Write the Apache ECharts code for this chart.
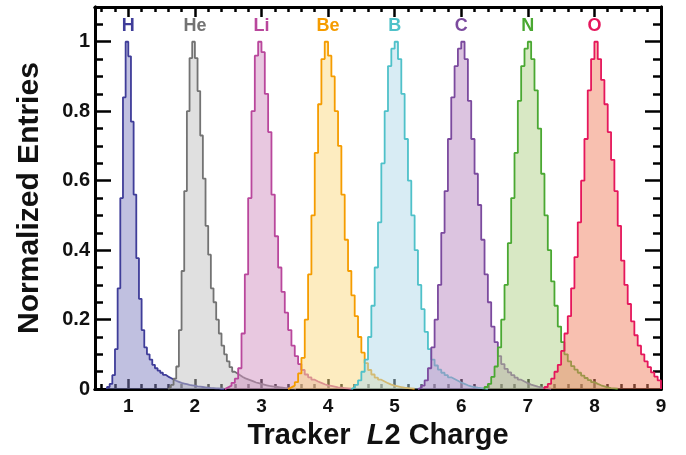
<!DOCTYPE html>
<html>
<head>
<meta charset="utf-8">
<script src="https://cdn.jsdelivr.net/npm/echarts@6/dist/echarts.min.js"></script>
<style>
  html, body { margin: 0; padding: 0; background: #fff; }
  #chart { width: 686px; height: 455px; }
</style>
</head>
<body>
<div id="chart"></div>
<script>
// element names and the x position of their label
const elements = ['H', 'He', 'Li', 'Be', 'B', 'C', 'N', 'O']
const labelX = [1, 2, 3, 4, 5, 6, 7, 8]
const labelY = 1.045

// histogram binning: first bin edge and bin width per element
const binStart = [0.68, 1.60, 2.45, 3.40, 4.35, 5.35, 6.35, 7.25]
const binWidth = [0.04, 0.04, 0.05, 0.05, 0.05, 0.05, 0.05, 0.05]

// normalized entries per bin
const hVals = [0.006, 0.015, 0.04, 0.115, 0.29, 0.55, 0.84, 1.0, 0.958, 0.77, 0.56, 0.377, 0.26, 0.17, 0.12, 0.10, 0.085, 0.07, 0.06, 0.053, 0.047, 0.041, 0.036, 0.032, 0.028, 0.024, 0.021, 0.018, 0.016, 0.014, 0.012, 0.011, 0.010, 0.008, 0.007, 0.006, 0.005, 0.004, 0.003, 0.003, 0.002, 0.002, 0.001, 0.001]
const heVals = [0.005, 0.012, 0.03, 0.065, 0.17, 0.34, 0.57, 0.80, 0.953, 1.0, 0.953, 0.858, 0.73, 0.606, 0.47, 0.387, 0.29, 0.25, 0.20, 0.16, 0.125, 0.10, 0.08, 0.063, 0.05, 0.045, 0.04, 0.035, 0.031, 0.028, 0.025, 0.022, 0.019, 0.017, 0.015, 0.013, 0.011, 0.009, 0.008, 0.007, 0.006, 0.005, 0.004, 0.003, 0.003, 0.002, 0.002, 0.001]
const liVals = [0.005, 0.01, 0.018, 0.03, 0.06, 0.16, 0.33, 0.55, 0.80, 0.96, 1.0, 0.97, 0.85, 0.74, 0.56, 0.44, 0.35, 0.28, 0.22, 0.17, 0.125, 0.095, 0.072, 0.055, 0.042, 0.034, 0.027, 0.022, 0.018, 0.014, 0.011, 0.009, 0.007, 0.005, 0.004, 0.003, 0.002, 0.001]
const beVals = [0.005, 0.01, 0.02, 0.045, 0.09, 0.2, 0.33, 0.5, 0.68, 0.82, 0.95, 1.0, 0.96, 0.9, 0.8, 0.7, 0.56, 0.43, 0.34, 0.27, 0.21, 0.15, 0.105, 0.075, 0.055, 0.042, 0.033, 0.027, 0.022, 0.017, 0.013, 0.01, 0.008, 0.006, 0.004, 0.003, 0.002, 0.001]
const bVals = [0.005, 0.012, 0.025, 0.05, 0.085, 0.15, 0.24, 0.35, 0.48, 0.65, 0.80, 0.93, 0.98, 1.0, 0.95, 0.85, 0.72, 0.6, 0.5, 0.4, 0.3, 0.23, 0.165, 0.115, 0.085, 0.068, 0.056, 0.047, 0.04, 0.034, 0.029, 0.024, 0.019, 0.015, 0.011, 0.008, 0.006, 0.004, 0.003, 0.002, 0.001]
const cVals = [0.004, 0.01, 0.025, 0.06, 0.12, 0.2, 0.3, 0.45, 0.57, 0.72, 0.84, 0.93, 0.98, 1.0, 0.95, 0.83, 0.72, 0.62, 0.53, 0.43, 0.33, 0.25, 0.18, 0.135, 0.095, 0.072, 0.058, 0.048, 0.04, 0.033, 0.027, 0.022, 0.017, 0.013, 0.01, 0.007, 0.005, 0.003, 0.002, 0.001]
const nVals = [0.006, 0.015, 0.035, 0.065, 0.12, 0.2, 0.3, 0.42, 0.55, 0.68, 0.83, 0.93, 0.98, 1.0, 0.95, 0.86, 0.75, 0.62, 0.5, 0.4, 0.31, 0.24, 0.18, 0.135, 0.10, 0.08, 0.066, 0.056, 0.047, 0.039, 0.032, 0.026, 0.02, 0.015, 0.011, 0.008, 0.005, 0.003, 0.002, 0.001]
const oVals = [0.006, 0.015, 0.03, 0.05, 0.07, 0.11, 0.16, 0.21, 0.29, 0.38, 0.48, 0.6, 0.72, 0.86, 0.95, 1.0, 0.95, 0.89, 0.82, 0.74, 0.66, 0.57, 0.47, 0.37, 0.3, 0.245, 0.195, 0.155, 0.125, 0.1, 0.08, 0.063, 0.048, 0.036, 0.025]
const allVals = [hVals, heVals, liVals, beVals, bVals, cVals, nVals, oVals]

// axis ticks
const xTicks = [1, 2, 3, 4, 5, 6, 7, 8, 9]
const xMinor = []
for (let i = 3; i <= 45; i++) if (i % 5 !== 0) xMinor.push(+(i * 0.2).toFixed(1))
const yTicks = [0, 0.2, 0.4, 0.6, 0.8, 1]
const yMinor = []
for (let i = 1; i <= 21; i++) if (i % 4 !== 0) yMinor.push(+(i * 0.05).toFixed(2))

// colours
const lineColors = ['#3f3d99', '#737373', '#b9479c', '#f59c00', '#4fc1c9', '#7b4a9e', '#4aa832', '#e5175c']
const fillColors = ['#8181c1', '#c2c2c2', '#d191c1', '#fbd981', '#b1d9e9', '#b989c1', '#b1d189', '#f18161']

const font = '"Liberation Sans", Arial, Helvetica, sans-serif'

function histPoints(start, width, vals) {
  const pts = [[start, 0]]
  vals.forEach((v, i) => pts.push([+(start + i * width).toFixed(3), v]))
  pts.push([+(start + vals.length * width).toFixed(3), 0])
  return pts
}

const chart = echarts.init(document.getElementById('chart'))

function tickAxis(pos, type, ticks, len, labels, extra) {
  const isX = type === 'x'
  return Object.assign({
    type: 'value',
    position: pos,
    min: isX ? 0.5 : 0,
    max: isX ? 9 : 1.1,
    axisLine: { show: true, onZero: false, lineStyle: { color: '#000', width: 3 } },
    axisTick: { show: true, inside: true, length: len, customValues: ticks, lineStyle: { color: '#000', width: 2.5 } },
    axisLabel: labels ? {
      show: true,
      customValues: ticks,
      margin: isX ? 8 : 5,
      fontFamily: font,
      fontWeight: 'bold',
      fontSize: isX ? 19 : 20,
      color: '#111'
    } : { show: false },
    splitLine: { show: false }
  }, extra || {})
}

const series = allVals.map((vals, k) => ({
  name: elements[k],
  type: 'line',
  step: 'end',
  xAxisIndex: 0,
  yAxisIndex: 0,
  symbol: 'none',
  data: histPoints(binStart[k], binWidth[k], vals),
  lineStyle: { color: lineColors[k], width: 1.8 },
  areaStyle: { color: fillColors[k], opacity: 0.5 },
  z: 2 + k
}))

// element names above the peaks
series.push({
  type: 'scatter',
  xAxisIndex: 0,
  yAxisIndex: 0,
  symbolSize: 1,
  itemStyle: { opacity: 0 },
  silent: true,
  z: 20,
  data: elements.map((el, k) => ({
    value: [labelX[k], labelY],
    label: {
      show: true,
      position: 'inside',
      formatter: el,
      fontFamily: font,
      fontWeight: 'bold',
      fontSize: 18,
      color: lineColors[k],
      textBorderWidth: 0,
      opacity: 1
    }
  }))
})

const option = {
  animation: false,
  backgroundColor: '#fff',
  grid: { left: 95, right: 25, top: 7, bottom: 63 },
  xAxis: [
    tickAxis('bottom', 'x', xTicks, 10, true, {
      name: 'Tracker  {i|L}2 Charge',
      nameLocation: 'middle',
      nameGap: 28,
      nameTextStyle: {
        fontFamily: font,
        fontWeight: 'bold',
        fontSize: 29,
        color: '#111',
        rich: { i: { fontFamily: font, fontWeight: 'bold', fontStyle: 'italic', fontSize: 29, color: '#111' } }
      }
    }),
    tickAxis('bottom', 'x', xMinor, 5, false),
    tickAxis('top', 'x', xTicks, 10, false),
    tickAxis('top', 'x', xMinor, 5, false)
  ],
  yAxis: [
    tickAxis('left', 'y', yTicks, 16, true, {
      name: 'Normalized Entries',
      nameLocation: 'middle',
      nameRotate: 90,
      nameGap: 50,
      nameTextStyle: { fontFamily: font, fontWeight: 'bold', fontSize: 30, color: '#111' }
    }),
    tickAxis('left', 'y', yMinor, 8, false),
    tickAxis('right', 'y', yTicks, 16, false),
    tickAxis('right', 'y', yMinor, 8, false)
  ],
  series: series
}

chart.setOption(option)
</script>
</body>
</html>
